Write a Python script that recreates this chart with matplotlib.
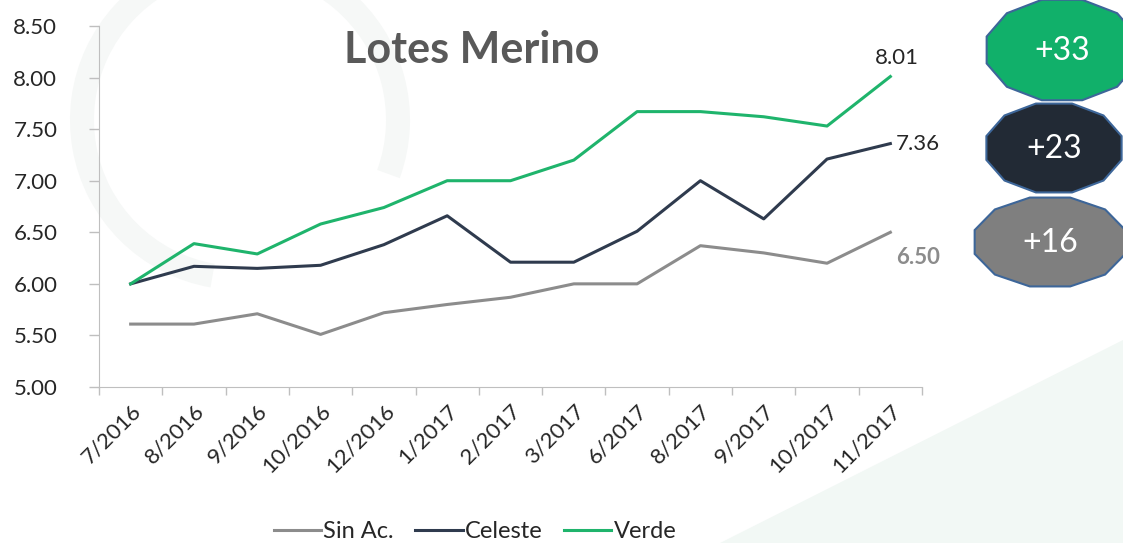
import numpy as np
import matplotlib
matplotlib.use("Agg")
import matplotlib.pyplot as plt
from matplotlib.patches import Polygon, Wedge

plt.rcParams["font.family"] = ["Lato", "DejaVu Sans"]

# ---- data ----
months = ["7/2016", "8/2016", "9/2016", "10/2016", "12/2016", "1/2017", "2/2017",
          "3/2017", "6/2017", "8/2017", "9/2017", "10/2017", "11/2017"]
sin_ac = [5.61, 5.61, 5.71, 5.51, 5.72, 5.80, 5.87, 6.00, 6.00, 6.37, 6.30, 6.20, 6.50]
celeste = [6.00, 6.17, 6.15, 6.18, 6.38, 6.66, 6.21, 6.21, 6.51, 7.00, 6.63, 7.21, 7.36]
verde = [6.00, 6.39, 6.29, 6.58, 6.74, 7.00, 7.00, 7.20, 7.67, 7.67, 7.62, 7.53, 8.01]
badges = ["+33", "+23", "+16"]

C_GRAY, C_NAVY, C_GREEN = "#8c8c8c", "#2f3b4e", "#1fb46c"
W, H = 1123, 543

fig = plt.figure(figsize=(W / 100, H / 100), dpi=100)

# faint watermark in the background (pixel coords)
bg = fig.add_axes([0, 0, 1, 1], zorder=0)
bg.set_xlim(0, W); bg.set_ylim(H, 0); bg.axis("off")
bg.add_patch(Wedge((240, 120), 170, 100, 380, width=24, color="#f6f8f7", lw=0))
bg.add_patch(Polygon([(720, 543), (1123, 340), (1123, 543)], closed=True,
                     color="#f2f8f5", lw=0))

ax = fig.add_axes([99 / W, 1 - 387 / H, (922 - 99) / W, (387 - 26) / H], zorder=2)
ax.patch.set_alpha(0)
x = np.arange(len(months))
ax.plot(x, sin_ac, color=C_GRAY, lw=2.2, label="Sin Ac.")
ax.plot(x, celeste, color=C_NAVY, lw=2.2, label="Celeste")
ax.plot(x, verde, color=C_GREEN, lw=2.2, label="Verde")

ax.set_xlim(-0.5, len(months) - 0.5)
ax.set_ylim(5.0, 8.5)
ax.set_yticks(np.arange(5.0, 8.51, 0.5))
ax.set_yticklabels([f"{v:.2f}" for v in np.arange(5.0, 8.51, 0.5)])
ax.tick_params(axis="y", length=7, width=1, color="#bfbfbf", pad=23,
               labelsize=16, labelcolor="#262626")
ax.set_xticks(x)
ax.set_xticklabels(months, rotation=45, ha="right", rotation_mode="anchor")
ax.set_xticks(np.arange(-0.5, len(months), 1), minor=True)
ax.tick_params(axis="x", which="major", length=0, pad=10, labelsize=16,
               labelcolor="#262626")
ax.tick_params(axis="x", which="minor", length=6, width=1, color="#bfbfbf")
for s in ["top", "right"]:
    ax.spines[s].set_visible(False)
for s in ["left", "bottom"]:
    ax.spines[s].set_color("#bfbfbf")

ax.text(5.39, 8.27, "Lotes Merino", fontsize=31, fontweight="bold",
        color="#595959", ha="center", va="center")
ax.annotate(f"{verde[-1]:.2f}", (x[-1], verde[-1]), xytext=(5, 13),
            textcoords="offset points", ha="center", va="center", fontsize=16,
            color="#262626")
ax.annotate(f"{celeste[-1]:.2f}", (x[-1], celeste[-1]), xytext=(4, 0),
            textcoords="offset points", ha="left", va="center", fontsize=16,
            color="#262626")
ax.annotate(f"{sin_ac[-1]:.2f}", (x[-1], sin_ac[-1]), xytext=(4, -18),
            textcoords="offset points", ha="left", va="center", fontsize=16,
            fontweight="bold", color="#8c8c8c")

fig.legend(loc="lower center", bbox_to_anchor=(0.423, -0.038), ncol=3, frameon=False,
           fontsize=17, handlelength=2.0, handletextpad=0.1, columnspacing=0.9,
           labelcolor="#262626")

# badges on the right (pixel coords)
ov = fig.add_axes([0, 0, 1, 1], zorder=3)
ov.set_xlim(0, W); ov.set_ylim(H, 0); ov.axis("off")
ang = np.deg2rad(np.arange(12) * 30 + 15)
shapes = [((1062, 50), 78, 52, "#11b06a"),
          ((1054, 148), 70, 46, "#222a35"),
          ((1050, 242), 78, 46, "#7f7f7f")]
for (cx, cy), hw, hh, col in shapes:
    pts = np.c_[cx + hw * np.cos(ang), cy + hh * np.sin(ang)]
    ov.add_patch(Polygon(pts, closed=True, facecolor=col, edgecolor="#3d6699", lw=1.5))
for ((cx, cy), hw, hh, col), txt in zip(shapes, badges):
    ov.text(cx, cy + 1, txt, color="white", fontsize=23, ha="center", va="center")

fig.savefig("out.png", dpi=100)
